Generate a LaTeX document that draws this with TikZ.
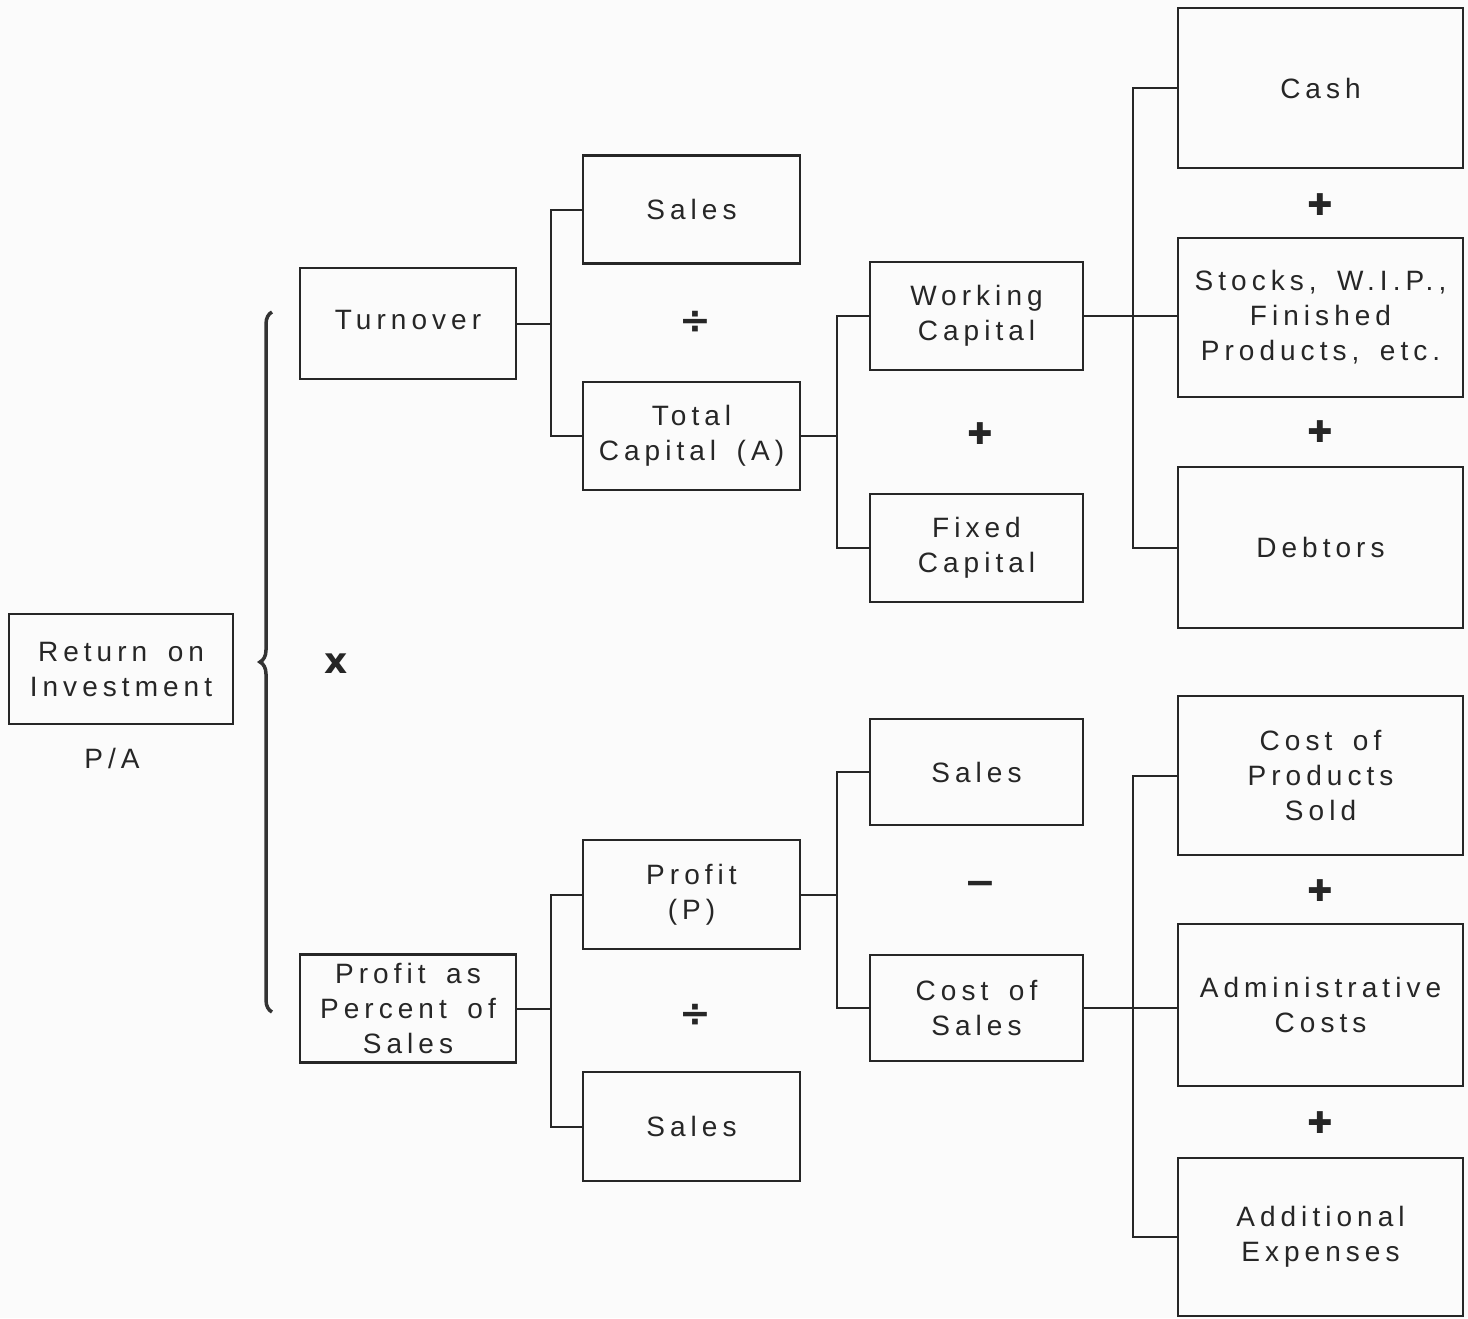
\documentclass[tikz,border=0pt]{standalone}
\usepackage{fontspec}
\setmainfont{Liberation Sans}[LetterSpace=18,WordSpace=1.6]
\newfontfamily\opfamily{DejaVu Sans}
\usetikzlibrary{positioning,decorations.pathreplacing}

\newcommand{\boxfont}{\fontsize{28}{35}\selectfont}
\newcommand{\opfont}{\opfamily\bfseries\fontsize{30}{30}\selectfont}

\begin{document}
\begin{tikzpicture}[x=1pt,y=-1pt,
  box/.style={draw=black!85,line width=2.6pt,inner sep=0pt,align=center,font=\boxfont,text=black!85},
  sbox/.style={box,minimum width=216pt,minimum height=108pt},
  mbox/.style={box,minimum width=213pt,minimum height=107pt},
  wbox/.style={box,minimum width=285pt,minimum height=160pt},
  op/.style={font=\opfont,text=black!85,inner sep=0pt},
  bigop/.style={op,font=\opfamily\bfseries\fontsize{38}{38}\selectfont},
  ln/.style={draw=black!85,line width=2pt}]
  \fill[white!97!gray] (0,0) rectangle (1468,1318);
  \useasboundingbox (0,0) rectangle (1468,1318);
  % left part
  \node[box,minimum width=224pt,minimum height=110pt] (roi) at (121,669) {Return on\\Investment};
  \node[font=\boxfont,text=black!85] (pa) at (112,758) {P/A};
  \node[sbox,minimum height=111pt] (turn) at (408,323.5) {\raisebox{7pt}{Turnover}};
  \node[sbox] (pps) at (408,1008.5) {Profit as\\Percent of\\Sales};
  \draw[decorate,decoration={brace,amplitude=12pt},line width=3.5pt,black!80]
    (272,1012) -- (272,312);
  \node[op,font=\opfamily\bfseries\fontsize{36}{36}\selectfont] (times) at (336,664) {x};
  % second column
  \node[sbox,minimum width=217pt] (salA) at (691.5,209.5) {Sales};
  \node[sbox,minimum width=217pt] (tcap) at (691.5,436) {Total\\Capital (A)};
  \node[sbox,minimum width=217pt,minimum height=109pt] (prof) at (691.5,894.5) {Profit\\(P)};
  \node[sbox,minimum width=217pt,minimum height=109pt] (salB) at (691.5,1126.5) {Sales};
  \node[bigop] (divA) at (695,322) {÷};
  \node[bigop] (divB) at (695,1015) {÷};
  % third column
  \node[mbox,minimum height=108pt] (wcap) at (976.5,316) {Working\\Capital};
  \node[mbox,minimum height=108pt] (fcap) at (976.5,548) {Fixed\\Capital};
  \node[mbox,minimum height=106pt] (salC) at (976.5,772) {Sales};
  \node[mbox,minimum height=106pt] (cos) at (976.5,1008) {Cost of\\Sales};
  \node[op] (plA) at (980,434) {✚};
  \node[bigop] (minA) at (980,888) {−};
  % right column
  \node[wbox] (cash) at (1320.5,88) {Cash};
  \node[wbox,minimum height=159pt] (stk) at (1320.5,317.5) {Stocks, W.I.P.,\\Finished\\Products, etc.};
  \node[wbox,minimum height=161pt] (debt) at (1320.5,547.5) {Debtors};
  \node[wbox,minimum height=159pt] (cops) at (1320.5,775.5) {Cost of\\Products\\Sold};
  \node[wbox,minimum height=162pt] (adm) at (1320.5,1005) {Administrative\\Costs};
  \node[wbox,minimum height=158pt] (addx) at (1320.5,1237) {Additional\\Expenses};
  \node[op] (plB) at (1320,205) {✚};
  \node[op] (plC) at (1320,432) {✚};
  \node[op] (plD) at (1320,891) {✚};
  \node[op] (plE) at (1320,1123) {✚};
  % connectors
  \draw[ln] (turn.east) -- ++(34,0) |- (salA.west);
  \draw[ln] (turn.east) -- ++(34,0) |- (tcap.west);
  \draw[ln] (pps.east) -- ++(34,0) |- (prof.west);
  \draw[ln] (pps.east) -- ++(34,0) |- (salB.west);
  \draw[ln] (tcap.east) -- ++(36,0) |- (wcap.west);
  \draw[ln] (tcap.east) -- ++(36,0) |- (fcap.west);
  \draw[ln] (prof.east) -- ++(36,0) |- (salC.west);
  \draw[ln] (prof.east) -- ++(36,0) |- (cos.west);
  \draw[ln] (wcap.east) -- ++(49,0) |- (cash.west);
  \draw[ln] (wcap.east) -- (wcap.east -| stk.west);
  \draw[ln] (wcap.east) -- ++(49,0) |- (debt.west);
  \draw[ln] (cos.east) -- ++(49,0) |- (cops.west);
  \draw[ln] (cos.east) -- (cos.east -| adm.west);
  \draw[ln] (cos.east) -- ++(49,0) |- (addx.west);
\end{tikzpicture}
\end{document}
